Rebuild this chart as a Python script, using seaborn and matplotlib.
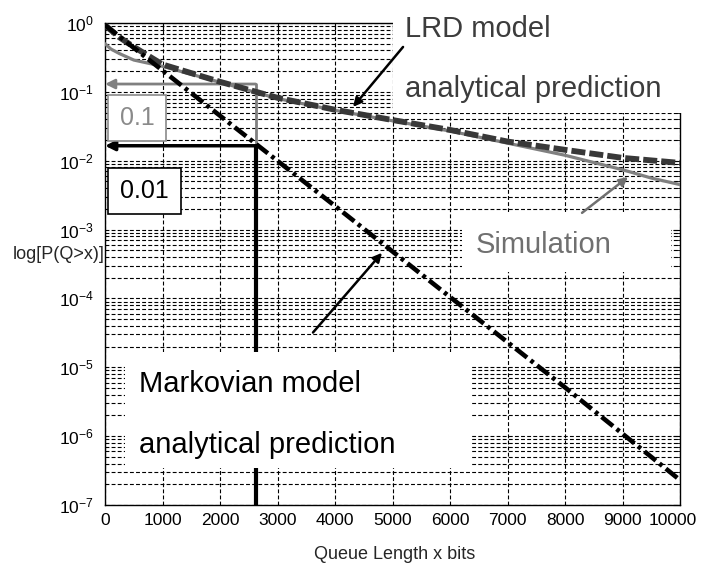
import matplotlib
matplotlib.use("Agg")
import numpy as np
import pandas as pd
import matplotlib.pyplot as plt
import matplotlib.transforms as mtransforms
import seaborn as sns
from matplotlib.patches import Rectangle
from matplotlib.ticker import FixedLocator, NullFormatter, FuncFormatter

# values
lrd_x = [0, 250, 500, 1000, 2000, 3000, 4000, 5000, 6000, 7000, 8000, 9000, 10000]
lrd_p = [0.93, 0.62, 0.45, 0.25, 0.14, 0.082, 0.055, 0.039, 0.028, 0.019, 0.0144, 0.011, 0.0093]

sim_x = [0, 100, 250, 500, 1000, 2000, 3000, 4000, 5000, 6000, 7000, 8000, 9000, 9500, 10000]
sim_p = [0.5, 0.42, 0.36, 0.29, 0.235, 0.138, 0.08, 0.054, 0.038, 0.027, 0.018, 0.012, 0.0074, 0.0056, 0.0045]

markov_x = [0, 2000, 4000, 6000, 8000, 10000]
markov_p = [0.93, 0.045, 2.2e-3, 1.05e-4, 5.1e-6, 2.3e-7]

# reading markers (queue length and the two probabilities read there)
mark_x = 2620
mark_lrd = 0.13
mark_markov = 0.0165

x_ticks = list(range(0, 10001, 1000))
y_exponents = [0, -1, -2, -3, -4, -5, -6, -7]

sns.set_style("white")
plt.rcParams['font.family'] = ['Liberation Sans', 'DejaVu Sans']
plt.rcParams['axes.unicode_minus'] = False

fig = plt.figure(figsize=(7.02, 5.64), dpi=100)
ax = fig.add_axes([0.1496, 0.1046, 0.8191, 0.8546])
ax.set_yscale('log')

df_lrd = pd.DataFrame({'x': lrd_x, 'p': lrd_p})
df_sim = pd.DataFrame({'x': sim_x, 'p': sim_p})
df_mk = pd.DataFrame({'x': markov_x, 'p': markov_p})

sns.lineplot(data=df_sim, x='x', y='p', ax=ax, color='#808080', lw=2.3, zorder=3)
sns.lineplot(data=df_lrd, x='x', y='p', ax=ax, color='#383838', lw=4.2, zorder=3.2)
ax.lines[-1].set_linestyle((0, (2.4, 0.7)))
sns.lineplot(data=df_mk, x='x', y='p', ax=ax, color='black', lw=3.3, zorder=3.4)
ax.lines[-1].set_linestyle((0, (3.2, 1.0, 0.8, 1.0)))

ax.set_xlim(0, 10000)
ax.set_ylim(1e-7, 1e0)
ax.set_xticks(x_ticks)
y_major = [10.0 ** e for e in y_exponents]
y_minor = [m * 10.0 ** e for e in y_exponents[1:] for m in range(2, 10)]
ax.yaxis.set_major_locator(FixedLocator(y_major))
ax.yaxis.set_minor_locator(FixedLocator(y_minor))
ax.yaxis.set_minor_formatter(NullFormatter())
ax.yaxis.set_major_formatter(FuncFormatter(
    lambda v, pos: r'$\mathregular{10^{%d}}$' % int(round(np.log10(v)))))

ax.set_axisbelow(True)
grid_kw = dict(color='black', lw=0.8, linestyle=(0, (3.5, 2.0)))
ax.grid(True, which='major', axis='both', **grid_kw)
ax.grid(True, which='minor', axis='y', **grid_kw)

ax.tick_params(axis='both', which='both', direction='in', top=True, right=True,
               labelsize=12.5, colors='black')
ax.tick_params(which='major', length=5)
ax.tick_params(which='minor', length=3)
ax.tick_params(axis='y', pad=8)
ax.tick_params(axis='x', pad=6)
for s in ax.spines.values():
    s.set_color('black')
    s.set_linewidth(1.0)

# nudge the last x label so it stays inside the picture
last = ax.get_xticklabels()[-1]
last.set_transform(last.get_transform() +
                   mtransforms.ScaledTranslation(-5 / 72, 0, fig.dpi_scale_trans))

ax.set_xlabel('Queue Length x bits', fontsize=13)
ax.xaxis.set_label_coords(0.503, -0.085)
ax.xaxis.label.set_va('top')
ax.set_ylabel('log[P(Q>x)]', fontsize=13, rotation=0, ha='left', va='center')
ax.yaxis.set_label_coords(-0.16, 0.519)

# reading lines at the crossing queue length
ax.plot([mark_x, mark_x], [mark_lrd, mark_markov], color='#808080', lw=2.0, zorder=1.6)
ax.plot([mark_x, mark_x], [mark_markov, 1e-7], color='black', lw=3.0, zorder=1.6)
ax.annotate('', xy=(0, mark_lrd), xytext=(mark_x, mark_lrd),
            arrowprops=dict(arrowstyle='-|>', color='#808080', lw=2.0, mutation_scale=14,
                            shrinkA=0, shrinkB=0), zorder=1.6)
ax.annotate('', xy=(0, mark_markov), xytext=(mark_x, mark_markov),
            arrowprops=dict(arrowstyle='-|>', color='black', lw=2.5, mutation_scale=14,
                            shrinkA=0, shrinkB=0), zorder=1.6)


# white label boxes hiding the grid
def white_box(x0, y0, x1, y1, edge='none', lw=0, z=2.0):
    ax.add_patch(Rectangle((x0, y0), x1 - x0, y1 - y0, transform=ax.transAxes,
                           facecolor='white', edgecolor=edge, lw=lw, zorder=z,
                           clip_on=False))


white_box(0.501, 0.813, 1.05, 1.06, z=2.6)
white_box(0.621, 0.483, 0.984, 0.608)
white_box(0.035, 0.077, 0.638, 0.317)
white_box(0.005, 0.755, 0.106, 0.851, edge='#8a8a8a', lw=1.2, z=2.1)
white_box(0.005, 0.604, 0.132, 0.699, edge='black', lw=1.2, z=2.1)

big = dict(fontsize=21, transform=ax.transAxes, ha='left', va='baseline', zorder=5)
ax.text(0.522, 0.971, 'LRD model', color='#3c3c3c', **big)
ax.text(0.522, 0.846, 'analytical prediction', color='#3c3c3c', **big)
ax.text(0.645, 0.523, 'Simulation', color='#707070', **big)
ax.text(0.059, 0.234, 'Markovian model', color='black', **big)
ax.text(0.059, 0.108, 'analytical prediction', color='black', **big)

ax.text(0.056, 0.803, '0.1', color='#8a8a8a', fontsize=18, ha='center', va='center',
        transform=ax.transAxes, zorder=5)
ax.text(0.069, 0.651, '0.01', color='black', fontsize=18, ha='center', va='center',
        transform=ax.transAxes, zorder=5)

# pointer arrows to the curves
arrow_kw = dict(arrowstyle='-|>', lw=1.8, mutation_scale=13, shrinkA=0, shrinkB=0)
ax.annotate('', xy=(4313, 0.0604), xytext=(5183, 0.449),
            arrowprops=dict(color='black', **arrow_kw), zorder=6)
ax.annotate('', xy=(9096, 5.8e-3), xytext=(8296, 1.75e-3),
            arrowprops=dict(color='#707070', **arrow_kw), zorder=6)
ax.annotate('', xy=(4817, 4.6e-4), xytext=(3617, 3.2e-5),
            arrowprops=dict(color='black', **arrow_kw), zorder=6)

fig.savefig('out.png', dpi=100, facecolor='white')
